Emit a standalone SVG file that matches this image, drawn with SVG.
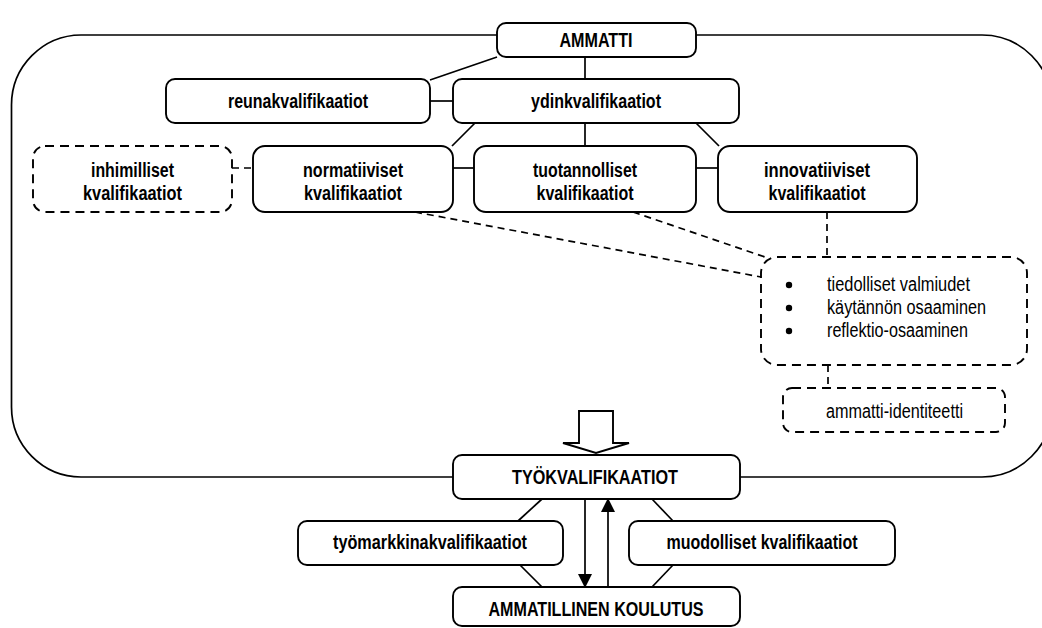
<svg xmlns="http://www.w3.org/2000/svg" width="1042" height="628" viewBox="0 0 1042 628">
<defs>
<style>
.b{fill:#fff;stroke:#000;stroke-width:1.9}
.d{fill:#fff;stroke:#000;stroke-width:1.9;stroke-dasharray:9 6}
.l{fill:none;stroke:#000;stroke-width:1.7}
.dl{fill:none;stroke:#000;stroke-width:1.7;stroke-dasharray:7 5}
.t{font-family:"Liberation Sans",Arial,sans-serif;font-weight:bold;font-size:20px;text-anchor:middle;fill:#000}
.r{font-family:"Liberation Sans",Arial,sans-serif;font-size:20px;fill:#000}
</style>
<marker id="ah" markerUnits="userSpaceOnUse" markerWidth="14" markerHeight="14" viewBox="0 0 14 14" refX="13" refY="7" orient="auto">
<path d="M0,0 L14,7 L0,14 Z" fill="#000"/>
</marker>
</defs>
<rect width="1042" height="628" fill="#fff"/>
<path id="frame" class="l" d="M81,35 H982 A70,70 0 0 1 1052,105 V407 A70,70 0 0 1 982,477 H81 A70,70 0 0 1 11.5,407 V105 A70,70 0 0 1 81,35 Z"/>
<g id="connectors">
<line class="l" x1="497" y1="57" x2="430" y2="80"/>
<line class="l" x1="585" y1="57" x2="585" y2="80"/>
<line class="l" x1="430" y1="101" x2="453" y2="101"/>
<line class="l" x1="475" y1="123" x2="452" y2="146"/>
<line class="l" x1="585" y1="123" x2="585" y2="146"/>
<line class="l" x1="696" y1="123" x2="719" y2="146"/>
<line class="l" x1="453" y1="168" x2="474" y2="168"/>
<line class="l" x1="696" y1="168" x2="718" y2="168"/>
<line class="dl" x1="232" y1="168" x2="253" y2="168"/>
<line class="dl" x1="415" y1="212" x2="761" y2="277"/>
<line class="dl" x1="633" y1="212" x2="765" y2="257"/>
<line class="dl" x1="827" y1="212" x2="827" y2="257"/>
<line class="dl" x1="828" y1="365" x2="828" y2="388"/>
<polygon class="b" points="579,411 613,411 613,443 629,443 596,453 563,443 579,443"/>
<line class="l" x1="542" y1="499" x2="518" y2="521"/>
<line class="l" x1="520" y1="565" x2="542" y2="587"/>
<line class="l" x1="652" y1="499" x2="673" y2="521"/>
<line class="l" x1="673" y1="565" x2="652" y2="587"/>
<line class="l" x1="585" y1="499" x2="585" y2="587" marker-end="url(#ah)"/>
<line class="l" x1="608" y1="587" x2="608" y2="499" marker-end="url(#ah)"/>
</g>
<g id="ammatti"><rect class="b" x="497" y="23" width="199" height="34" rx="9"/><text class="t" x="596" y="47" textLength="73" lengthAdjust="spacingAndGlyphs">AMMATTI</text></g>
<g id="reuna"><rect class="b" x="166" y="79" width="264" height="44" rx="9"/><text class="t" x="298" y="108" textLength="140" lengthAdjust="spacingAndGlyphs">reunakvalifikaatiot</text></g>
<g id="ydin"><rect class="b" x="453" y="79" width="286" height="44" rx="9"/><text class="t" x="596" y="108" textLength="130" lengthAdjust="spacingAndGlyphs">ydinkvalifikaatiot</text></g>
<g id="inhimilliset"><rect class="d" x="33" y="146" width="199" height="66" rx="12"/><text class="t" x="132.5" y="177" textLength="83" lengthAdjust="spacingAndGlyphs">inhimilliset</text><text class="t" x="132.5" y="200" textLength="99" lengthAdjust="spacingAndGlyphs">kvalifikaatiot</text></g>
<g id="normatiiviset"><rect class="b" x="253" y="146" width="200" height="66" rx="12"/><text class="t" x="353" y="177" textLength="100" lengthAdjust="spacingAndGlyphs">normatiiviset</text><text class="t" x="353" y="200" textLength="98" lengthAdjust="spacingAndGlyphs">kvalifikaatiot</text></g>
<g id="tuotannolliset"><rect class="b" x="474" y="146" width="222" height="66" rx="12"/><text class="t" x="585" y="177" textLength="104" lengthAdjust="spacingAndGlyphs">tuotannolliset</text><text class="t" x="585" y="200" textLength="97" lengthAdjust="spacingAndGlyphs">kvalifikaatiot</text></g>
<g id="innovatiiviset"><rect class="b" x="718" y="146" width="199" height="66" rx="12"/><text class="t" x="817" y="177" textLength="106" lengthAdjust="spacingAndGlyphs">innovatiiviset</text><text class="t" x="817" y="200" textLength="97" lengthAdjust="spacingAndGlyphs">kvalifikaatiot</text></g>
<g id="osaaminen"><rect class="d" x="761" y="257" width="266" height="108" rx="16"/>
<circle cx="789" cy="285" r="3.2"/><circle cx="789" cy="308" r="3.2"/><circle cx="789" cy="331" r="3.2"/>
<text class="r" x="827" y="291" textLength="143" lengthAdjust="spacingAndGlyphs">tiedolliset valmiudet</text>
<text class="r" x="827" y="314" textLength="159" lengthAdjust="spacingAndGlyphs">käytännön osaaminen</text>
<text class="r" x="827" y="337" textLength="141" lengthAdjust="spacingAndGlyphs">reflektio-osaaminen</text></g>
<g id="identiteetti"><rect class="d" x="783" y="388" width="222" height="44" rx="9"/><text class="r" x="894.5" y="418" text-anchor="middle" textLength="137" lengthAdjust="spacingAndGlyphs">ammatti-identiteetti</text></g>
<g id="tyokval"><rect class="b" x="453" y="455" width="287" height="44" rx="9"/><text class="t" x="595" y="484" textLength="166" lengthAdjust="spacingAndGlyphs">TYÖKVALIFIKAATIOT</text></g>
<g id="tyomarkkina"><rect class="b" x="298" y="521" width="265" height="44" rx="9"/><text class="t" x="430" y="549" textLength="194" lengthAdjust="spacingAndGlyphs">työmarkkinakvalifikaatiot</text></g>
<g id="muodolliset"><rect class="b" x="629" y="521" width="266" height="44" rx="9"/><text class="t" x="762" y="549" textLength="191" lengthAdjust="spacingAndGlyphs">muodolliset kvalifikaatiot</text></g>
<g id="koulutus"><rect class="b" x="453" y="587" width="287" height="39" rx="9"/><text class="t" x="596" y="616" textLength="215" lengthAdjust="spacingAndGlyphs">AMMATILLINEN KOULUTUS</text></g>
</svg>
